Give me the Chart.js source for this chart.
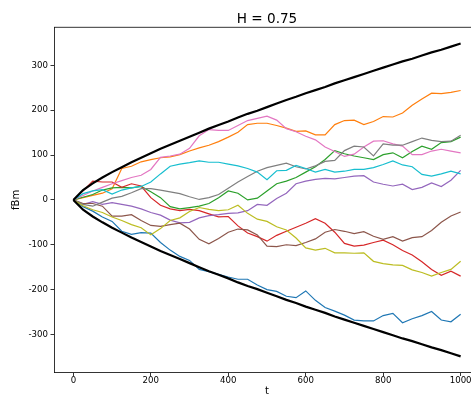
<!DOCTYPE html>
<html>
<head>
<meta charset="utf-8">
<script src="https://cdn.jsdelivr.net/npm/chart.js@4.4.1/dist/chart.umd.min.js"></script>
<style>
  html, body { margin: 0; padding: 0; background: #fff; overflow: hidden; }
  canvas { display: block; }
</style>
</head>
<body>
<canvas id="chart" width="482" height="397"></canvas>
<script>
// time samples (read every 25 steps)
const tGrid = [0, 25, 50, 75, 100, 125, 150, 175, 200, 225, 250, 275, 300, 325, 350, 375, 400, 425, 450, 475, 500,
  525, 550, 575, 600, 625, 650, 675, 700, 725, 750, 775, 800, 825, 850, 875, 900, 925, 950, 975, 1000];

const xTicks = [0, 200, 400, 600, 800, 1000];
const yTicks = [-300, -200, -100, 0, 100, 200, 300];

// ten sample paths
const pathBlue = [0, -15, -25, -38, -48, -70, -77, -73, -74, -95, -112, -126, -135, -155, -160, -166, -172, -177, -177, -190, -200,
  -204, -215, -218, -203, -224, -240, -248, -257, -268, -270, -270, -258, -253, -274, -265, -258, -249, -268, -272, -255];
const pathOrange = [0, 5, 10, 15, 25, 70, 75, 85, 90, 94, 96, 101, 109, 116, 122, 130, 140, 151, 168, 171, 171,
  166, 160, 153, 154, 145, 145, 168, 177, 178, 168, 175, 186, 185, 194, 211, 225, 238, 237, 240, 244];
const pathGreen = [0, 6, 12, 22, 27, 28, 27, 30, 18, 5, -15, -20, -17, -14, -8, 5, 20, 15, 0, 4, 20,
  36, 42, 50, 62, 74, 90, 110, 103, 98, 94, 90, 101, 105, 94, 108, 120, 113, 128, 130, 140];
const pathRed = [0, 20, 42, 40, 40, 28, 36, 31, 5, -12, -20, -24, -21, -24, -31, -38, -37, -58, -74, -82, -92,
  -79, -70, -61, -52, -42, -52, -72, -97, -103, -101, -95, -90, -100, -113, -123, -138, -155, -168, -159, -170];
const pathPurple = [0, -10, -4, -10, -6, -10, -14, -20, -28, -34, -45, -51, -50, -40, -35, -33, -30, -29, -24, -10, -12,
  3, 15, 36, 42, 46, 48, 47, 50, 53, 54, 40, 35, 31, 35, 23, 28, 38, 30, 44, 66];
const pathBrown = [0, -8, -8, -14, -36, -36, -33, -46, -57, -59, -55, -52, -65, -88, -98, -86, -72, -65, -67, -78, -103,
  -104, -100, -102, -95, -87, -72, -66, -70, -75, -71, -81, -88, -82, -92, -84, -82, -68, -50, -36, -27];
const pathPink = [0, 10, 20, 28, 36, 43, 50, 55, 68, 95, 98, 102, 115, 143, 157, 155, 155, 166, 177, 182, 187,
  178, 159, 152, 142, 134, 118, 108, 97, 102, 118, 131, 132, 125, 120, 101, 101, 109, 113, 109, 105];
const pathGray = [0, -10, -14, -5, 4, 8, 16, 25, 25, 22, 18, 14, 7, 1, 5, 12, 26, 40, 52, 64, 72,
  77, 82, 74, 69, 76, 86, 88, 110, 120, 118, 98, 125, 122, 122, 130, 138, 133, 130, 131, 144];
const pathOlive = [0, -13, -22, -28, -38, -46, -55, -62, -78, -64, -46, -40, -26, -17, -21, -24, -22, -12, -30, -43, -48,
  -60, -67, -85, -107, -112, -108, -118, -118, -119, -118, -137, -142, -145, -146, -156, -162, -170, -162, -155, -137];
const pathCyan = [0, 14, 20, 23, 13, 22, 27, 30, 40, 58, 75, 80, 83, 87, 84, 84, 80, 76, 70, 62, 45,
  65, 66, 77, 70, 62, 68, 62, 64, 68, 68, 72, 79, 87, 78, 74, 57, 53, 58, 64, 58];

// black bounds
const boundUpper = [0, 22, 37, 50, 62, 73, 84, 94, 104, 114, 123, 132, 141, 150, 159, 167, 175, 184, 192, 199, 207,
  215, 223, 230, 238, 245, 252, 260, 267, 274, 281, 288, 295, 302, 309, 315, 322, 329, 335, 342, 349];
const boundLower = [0, -22, -37, -50, -62, -73, -84, -94, -104, -114, -123, -132, -141, -150, -159, -167, -175, -184, -192, -199, -207,
  -215, -223, -230, -238, -245, -252, -260, -267, -274, -281, -288, -295, -302, -309, -315, -322, -329, -335, -342, -349];

const FONT = 'DejaVu Sans';

const lines = [
  { values: pathBlue, color: '#1f77b4', width: 1.2 },
  { values: pathOrange, color: '#ff7f0e', width: 1.2 },
  { values: pathGreen, color: '#2ca02c', width: 1.2 },
  { values: pathRed, color: '#d62728', width: 1.2 },
  { values: pathPurple, color: '#9467bd', width: 1.2 },
  { values: pathBrown, color: '#8c564b', width: 1.2 },
  { values: pathPink, color: '#e377c2', width: 1.2 },
  { values: pathGray, color: '#7f7f7f', width: 1.2 },
  { values: pathOlive, color: '#bcbd22', width: 1.2 },
  { values: pathCyan, color: '#17becf', width: 1.2 },
  { values: boundUpper, color: '#000000', width: 2.2 },
  { values: boundLower, color: '#000000', width: 2.2 }
];

// later lines go on top, like the original
const datasets = lines.map((l, i) => ({
  data: tGrid.map((t, j) => ({ x: t, y: l.values[j] })),
  borderColor: l.color,
  borderWidth: l.width,
  pointRadius: 0,
  tension: 0,
  fill: false,
  order: -i
}));

// top spine
const frame = {
  id: 'frame',
  afterDraw(chart) {
    const { ctx, chartArea } = chart;
    ctx.save();
    ctx.strokeStyle = '#000';
    ctx.lineWidth = 0.8;
    ctx.beginPath();
    ctx.moveTo(chartArea.left, chartArea.top);
    ctx.lineTo(chartArea.right, chartArea.top);
    ctx.lineTo(chartArea.right, chartArea.bottom);
    ctx.stroke();
    ctx.restore();
  }
};

new Chart(document.getElementById('chart'), {
  type: 'line',
  data: { datasets },
  plugins: [frame],
  options: {
    responsive: false,
    animation: false,
    devicePixelRatio: 1,
    events: [],
    layout: { padding: { left: 0, right: 2, top: 0, bottom: 0 } },
    plugins: {
      legend: { display: false },
      tooltip: { enabled: false },
      title: {
        display: true,
        text: 'H = 0.75',
        fullSize: false,
        color: '#000',
        font: { family: FONT, size: 13.6, weight: 'normal' },
        padding: { top: 11, bottom: 0 }
      }
    },
    scales: {
      x: {
        type: 'linear',
        min: -50,
        max: 1050,
        afterBuildTicks: s => { s.ticks = xTicks.map(v => ({ value: v })); },
        afterFit: s => { s.height = 24.5; },
        grid: { drawOnChartArea: false, drawTicks: true, tickLength: 3.5, color: '#000', lineWidth: 0.8 },
        border: { display: true, color: '#000', width: 0.8 },
        ticks: { color: '#000', padding: 0, maxRotation: 0, callback: v => String(v), font: { family: FONT, size: 8.6 } },
        title: { display: true, text: 't', color: '#000', padding: { top: 0, bottom: 0 }, font: { family: FONT, size: 10 } }
      },
      y: {
        type: 'linear',
        min: -385,
        max: 385,
        afterBuildTicks: s => { s.ticks = yTicks.map(v => ({ value: v })); },
        afterFit: s => { s.width = 54; },
        grid: { drawOnChartArea: false, drawTicks: true, tickLength: 3.5, color: '#000', lineWidth: 0.8 },
        border: { display: true, color: '#000', width: 0.8 },
        ticks: { color: '#000', padding: 2.5, callback: v => String(v), font: { family: FONT, size: 8.6 } },
        title: { display: true, text: 'fBm', color: '#000', padding: { top: 10, bottom: 0 }, font: { family: FONT, size: 10 } }
      }
    }
  }
});
</script>
</body>
</html>
